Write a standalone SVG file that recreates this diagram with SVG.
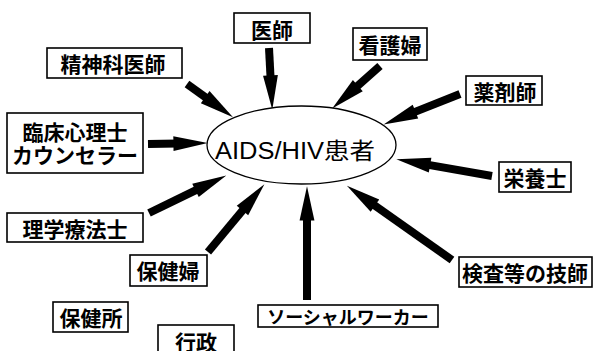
<svg xmlns="http://www.w3.org/2000/svg" width="593" height="351" viewBox="0 0 593 351">
<style>
.box{fill:#fff;stroke:#000;stroke-width:1.6}
.t{font-family:"Noto Sans CJK JP",sans-serif;font-size:21px;font-weight:700;fill:#000;text-anchor:middle;dominant-baseline:central}
.c{fill:none;stroke:#000;stroke-width:8;marker-end:url(#ah)}
</style>
<defs>
<marker id="ah" markerUnits="userSpaceOnUse" orient="auto" refX="0" refY="0" markerWidth="40" markerHeight="20" viewBox="-5 -8 35 16" overflow="visible">
<path d="M-4,-6.5 L26,0 L-4,6.5 z" fill="#000"/>
</marker>
</defs>
<rect width="593" height="351" fill="#fff"/>
<g id="connectors">
<path class="c" d="M269,48 L270.7,80"/>
<path class="c" d="M187,84 L208.9,99.8"/>
<path class="c" d="M380,66 L354.4,88.7"/>
<path class="c" d="M460,94 L411.2,113.4"/>
<path class="c" d="M148,144 L178,143.5"/>
<path class="c" d="M492,176 L425.6,164.4"/>
<path class="c" d="M149,213 L199.6,188.4"/>
<path class="c" d="M208,252 L245.4,207"/>
<path class="c" d="M307,300 L307,216"/>
<path class="c" d="M452,260 L371.2,203"/>
</g>
<g id="patient">
<ellipse cx="301.5" cy="145" rx="94.5" ry="39" fill="#fff" stroke="#000" stroke-width="1.3"/>
<text x="295" y="159" font-family="'Liberation Sans','Noto Sans CJK JP',sans-serif" font-size="23" text-anchor="middle" textLength="160" lengthAdjust="spacingAndGlyphs">AIDS/HIV患者</text>
</g>
<g id="doctor"><rect class="box" x="234" y="13" width="76" height="30"/><text class="t" x="272" y="29">医師</text></g>
<g id="psychiatrist"><rect class="box" x="47" y="48" width="135" height="30"/><text class="t" x="113" y="63">精神科医師</text></g>
<g id="nurse"><rect class="box" x="353" y="28" width="74" height="32"/><text class="t" x="390" y="44">看護婦</text></g>
<g id="pharmacist"><rect class="box" x="466" y="76" width="76" height="29"/><text class="t" x="505" y="91">薬剤師</text></g>
<g id="psychologist"><rect class="box" x="7" y="113" width="136" height="60"/><text class="t" x="75" y="131">臨床心理士</text><text class="t" x="75" y="154">カウンセラー</text></g>
<g id="dietitian"><rect class="box" x="499" y="162" width="72" height="30"/><text class="t" x="535" y="177">栄養士</text></g>
<g id="physiotherapist"><rect class="box" x="7" y="213" width="136" height="29"/><text class="t" x="75" y="228">理学療法士</text></g>
<g id="publichealthnurse"><rect class="box" x="130" y="255" width="77" height="31"/><text class="t" x="168" y="270">保健婦</text></g>
<g id="healthcenter"><rect class="box" x="53" y="302" width="75" height="30"/><text class="t" x="91" y="317">保健所</text></g>
<g id="administration"><rect class="box" x="158" y="325" width="76" height="40"/><text class="t" x="196" y="340.5">行政</text></g>
<g id="socialworker"><rect class="box" x="258" y="305" width="180" height="22"/><text class="t" x="348" y="316" style="font-size:18px">ソーシャルワーカー</text></g>
<g id="technician"><rect class="box" x="459" y="257" width="133" height="30"/><text class="t" x="525" y="272">検査等の技師</text></g>
</svg>
